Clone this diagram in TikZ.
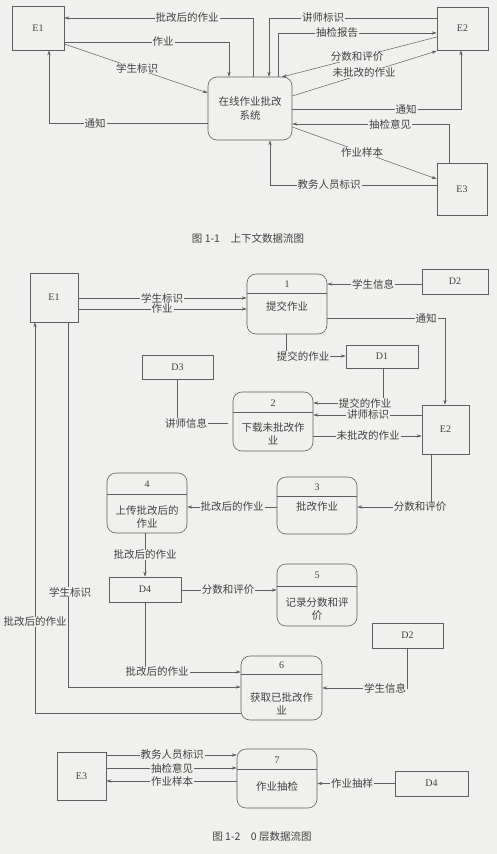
\documentclass[tikz,border=0pt]{standalone}
\usepackage{fontspec}
\setmainfont{Liberation Serif}
\newfontfamily\cjk{Noto Sans CJK SC}
\usetikzlibrary{arrows.meta}
\definecolor{bg}{RGB}{240,240,238}
\definecolor{lnc}{RGB}{95,95,95}
\definecolor{tx}{RGB}{65,65,65}
\begin{document}
\begin{tikzpicture}[x=1pt,y=-1pt,
  ent/.style={draw=lnc, line width=0.6pt, text=tx, font=\fontsize{10}{12}\selectfont, inner sep=0pt},
  proc/.style={draw=lnc, line width=0.6pt, rounded corners=9pt, text=tx, inner sep=0pt},
  lbl/.style={fill=bg, text=tx, font=\cjk\fontsize{10.5}{12}\selectfont, inner xsep=1pt, inner ysep=0.3pt},
  num/.style={text=tx, font=\fontsize{10}{12}\selectfont, inner sep=0pt},
  body/.style={text=tx, font=\cjk\fontsize{10.5}{13}\selectfont, align=center, inner sep=0pt},
  captext/.style={text=tx, font=\cjk\fontsize{10.5}{12}\selectfont, inner sep=0pt},
  arr/.style={draw=lnc, line width=0.5pt, -{Stealth[length=5pt,width=3.2pt]}},
  plain/.style={draw=lnc, line width=0.5pt},
  divline/.style={draw=lnc, line width=0.6pt}]
\fill[bg] (0,0) rectangle (497,854);
\useasboundingbox (0,0) rectangle (497,854);

% ================= Figure 1-1 =================
\node[ent, minimum width=52pt, minimum height=44pt] (E1) at (38,28) {E1};
\node[ent, minimum width=51pt, minimum height=43pt] (E2) at (462.5,28.5) {E2};
\node[ent, minimum width=50pt, minimum height=52pt] (E3) at (462,189) {E3};
\node[proc, minimum width=84pt, minimum height=63pt, font=\cjk\fontsize{10.5}{14}\selectfont, align=center] (P0) at (250,108.5) {在线作业批改\\系统};

\draw[arr] (P0.north -| 253,0) |- (E1.east |- 0,18);
\draw[arr] (E1.east |- 0,42) -| (P0.north -| 229,0);
\draw[arr] (E1.east |- 0,44) -- (P0.west |- 0,93);
\draw[arr] (P0.west |- 0,123) -| (E1.south -| 49,0);
\draw[arr] (E2.west |- 0,18) -| (P0.north -| 269,0);
\draw[arr] (P0.north -| 278,0) |- (E2.west |- 0,33);
\draw[arr] (E2.west |- 0,37) -- (282,77);
\draw[arr] (P0.east |- 0,96) -- (E2.west |- 0,51);
\draw[arr] (P0.east |- 0,109) -| (E2.south -| 461,0);
\draw[arr] (E3.north -| 449,0) |- (P0.east |- 0,124);
\draw[arr] (P0.east |- 0,127) -- (E3.west |- 0,179);
\draw[arr] (E3.west |- 0,185) -| (P0.south -| 270,0);

\node[lbl] (a1) at (187,18) {批改后的作业};
\node[lbl] (a2) at (163,42) {作业};
\node[lbl] (a3) at (137,68) {学生标识};
\node[lbl] (a4) at (95,123) {通知};
\node[lbl] (a5) at (323,18) {讲师标识};
\node[lbl] (a6) at (337,33) {抽检报告};
\node[lbl] (a7) at (357,57) {分数和评价};
\node[lbl] (a8) at (364,73) {未批改的作业};
\node[lbl] (a9) at (406,109) {通知};
\node[lbl] (a10) at (390,124) {抽检意见};
\node[lbl] (a11) at (362,152) {作业样本};
\node[lbl] (a12) at (329,185) {教务人员标识};

\node[captext] (cap1) at (248,238) {图 1-1\quad 上下文数据流图};

% ================= Figure 1-2 =================
\node[ent, minimum width=48pt, minimum height=49pt] (F1) at (54,297.5) {E1};
\node[ent, minimum width=47pt, minimum height=49pt] (F2) at (445.5,429.5) {E2};
\node[ent, minimum width=49pt, minimum height=48pt] (F3) at (81.5,776) {E3};
\node[ent, minimum width=66pt, minimum height=25pt] (D2a) at (455,281.5) {D2};
\node[ent, minimum width=72pt, minimum height=23pt] (D1) at (382,356.5) {D1};
\node[ent, minimum width=71pt, minimum height=24pt] (D3) at (177.5,367) {D3};
\node[ent, minimum width=72pt, minimum height=25pt] (D4a) at (145,589.5) {D4};
\node[ent, minimum width=71pt, minimum height=25pt] (D2b) at (407.5,635.5) {D2};
\node[ent, minimum width=73pt, minimum height=25pt] (D4b) at (431.5,783.5) {D4};

\node[proc, minimum width=80pt, minimum height=60pt] (P1) at (287,304) {};
\node[proc, minimum width=80pt, minimum height=59pt] (P2) at (273,421.5) {};
\node[proc, minimum width=80pt, minimum height=57pt] (P3) at (317,505.5) {};
\node[proc, minimum width=80pt, minimum height=60pt] (P4) at (147,503) {};
\node[proc, minimum width=80pt, minimum height=62pt] (P5) at (317,595) {};
\node[proc, minimum width=81pt, minimum height=64pt] (P6) at (281.5,688) {};
\node[proc, minimum width=80pt, minimum height=59pt] (P7) at (277,778.5) {};

\draw[divline] (P1.west |- 0,293) -- (P1.east |- 0,293);
\draw[divline] (P2.west |- 0,412) -- (P2.east |- 0,412);
\draw[divline] (P3.west |- 0,496) -- (P3.east |- 0,496);
\draw[divline] (P4.west |- 0,494) -- (P4.east |- 0,494);
\draw[divline] (P5.west |- 0,586) -- (P5.east |- 0,586);
\draw[divline] (P6.west |- 0,674) -- (P6.east |- 0,674);
\draw[divline] (P7.west |- 0,769) -- (P7.east |- 0,769);

\node[num] (n1) at (287,284.5) {1};
\node[num] (n2) at (273,403) {2};
\node[num] (n3) at (317,487) {3};
\node[num] (n4) at (147,484) {4};
\node[num] (n5) at (317,575.5) {5};
\node[num] (n6) at (281.5,665.5) {6};
\node[num] (n7) at (277,760) {7};

\node[body] (b1) at (287,306) {提交作业};
\node[body] (b2) at (273,434) {下载未批改作\\业};
\node[body] (b3) at (317,507) {批改作业};
\node[body] (b4) at (147,516.5) {上传批改后的\\作业};
\node[body] (b5) at (317,609) {记录分数和评\\价};
\node[body] (b6) at (281.5,703.5) {获取已批改作\\业};
\node[body] (b7) at (277,786) {作业抽检};

% connectors
\draw[arr] (F1.east |- 0,298) -- (P1.west |- 0,298);
\draw[arr] (F1.east |- 0,309) -- (P1.west |- 0,309);
\draw[arr] (D2a.west |- 0,284) -- (P1.east |- 0,284);
\draw[arr] (P1.east |- 0,318) -| (F2.north -| 445,0);
\draw[arr] (P1.south -| 286,0) |- (D1.west |- 0,356);
\draw[arr] (D1.south -| 383,0) |- (P2.east |- 0,403);
\draw[arr] (F2.west |- 0,415) -- (P2.east |- 0,415);
\draw[arr] (P2.east |- 0,436) -- (F2.west |- 0,436);
\draw[plain, shorten >=5pt] (D3.south) |- (P2.west |- 0,423);
\draw[arr] (F2.south -| 431,0) |- (P3.east |- 0,507);
\draw[arr] (P3.west |- 0,507) -- (P4.east |- 0,507);
\draw[arr] (P4.south -| 145,0) -- (D4a.north);
\draw[arr] (D4a.east |- 0,590) -- (P5.west |- 0,590);
\draw[arr] (D2b.south) |- (P6.east |- 0,688);
\draw[arr] (D4a.south) |- (P6.west |- 0,672);
\draw[arr] (F1.south -| 68,0) |- (P6.west |- 0,687);
\draw[arr] (P6.west |- 0,713) -| (F1.south -| 35,0);
\draw[arr] (F3.east |- 0,755) -- (P7.west |- 0,755);
\draw[arr] (F3.east |- 0,768) -- (P7.west |- 0,768);
\draw[arr] (P7.west |- 0,781) -- (F3.east |- 0,781);
\draw[arr] (D4b.west) -- (P7.east |- D4b.west);

\node[lbl] (c1) at (162,298) {学生标识};
\node[lbl] (c2) at (162,309) {作业};
\node[lbl] (c3) at (373,284) {学生信息};
\node[lbl] (c4) at (426,318) {通知};
\node[lbl] (c5) at (303,356) {提交的作业};
\node[lbl] (c6) at (365,403) {提交的作业};
\node[lbl] (c7) at (368,415) {讲师标识};
\node[lbl] (c8) at (368,436) {未批改的作业};
\node[lbl] (c9) at (186,423) {讲师信息};
\node[lbl] (c10) at (420,507) {分数和评价};
\node[lbl] (c11) at (232,507) {批改后的作业};
\node[lbl] (c12) at (145,555) {批改后的作业};
\node[lbl] (c13) at (228,590) {分数和评价};
\node[lbl] (c14) at (385,688) {学生信息};
\node[lbl] (c15) at (157,672) {批改后的作业};
\node[lbl] (c16) at (70,592) {学生标识};
\node[lbl] (c17) at (35,622) {批改后的作业};
\node[lbl] (c18) at (172,755) {教务人员标识};
\node[lbl] (c19) at (172,768) {抽检意见};
\node[lbl] (c20) at (172,781) {作业样本};
\node[lbl] (c21) at (352,783.5) {作业抽样};

\node[captext] (cap2) at (262,837) {图 1-2\quad 0 层数据流图};
\end{tikzpicture}
\end{document}
